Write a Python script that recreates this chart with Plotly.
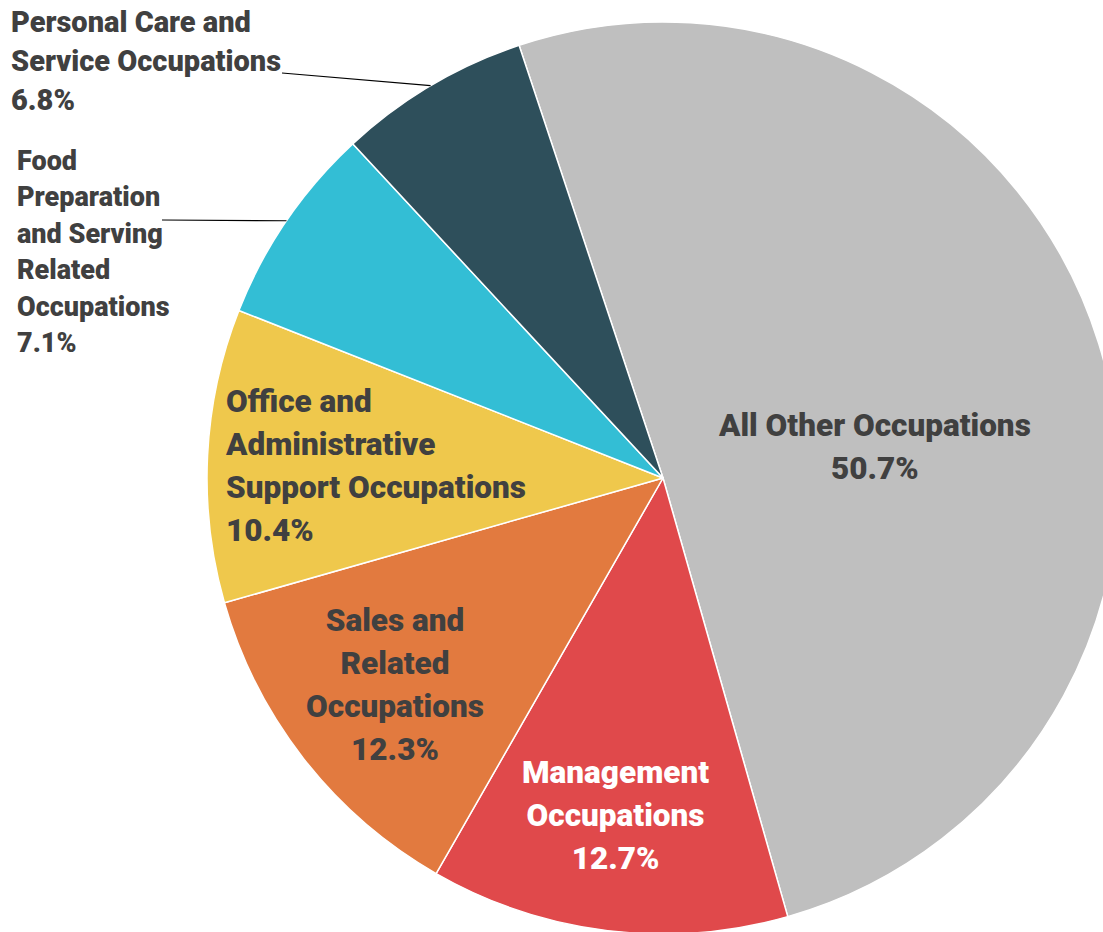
import math
import plotly.graph_objects as go

# ---- data ----
categories = [
    "All Other Occupations",
    "Management Occupations",
    "Sales and Related Occupations",
    "Office and Administrative Support Occupations",
    "Food Preparation and Serving Related Occupations",
    "Personal Care and Service Occupations",
]
shares = [50.7, 12.7, 12.3, 10.4, 7.1, 6.8]
wrapped_labels = [
    "All Other Occupations",
    "Management<br>Occupations",
    "Sales and<br>Related<br>Occupations",
    "Office and<br>Administrative<br>Support Occupations",
    "Food<br>Preparation<br>and Serving<br>Related<br>Occupations",
    "Personal Care and<br>Service Occupations",
]
colors = ["#BFBFBF", "#E0494B", "#E27A3F", "#EFC84C", "#33BED5", "#2E4F5B"]
text_colors = ["#404040", "#FFFFFF", "#404040", "#404040", "#404040", "#404040"]

# ---- layout geometry (pixels in the viewport) ----
BODY = 0          # page margin removed by post_script below
W, H = 1120, 934  # figure size (pie slightly cropped by the window, as in the reference)
CX, CY, R = 663, 478, 456
ROT = -18.4       # start angle of the first slice (deg, clockwise from 12 o'clock)

def px(x):
    return (x - BODY) / W

def py(y):
    return 1 - (y - BODY) / H

FONT = "Roboto, Liberation Sans, Arial, sans-serif"

fig = go.Figure(go.Pie(
    labels=categories,
    values=shares,
    sort=False,
    direction="clockwise",
    rotation=ROT,
    marker=dict(colors=colors, line=dict(color="white", width=1.5)),
    textinfo="none",
    hoverinfo="label+percent",
    showlegend=False,
    domain=dict(x=[px(CX - R), px(CX + R)], y=[py(CY + R), py(CY - R)]),
))

# label placement: (x px, y px, xanchor, align, line-spacing base size, glyph size)
placements = [
    (874, 447, "center", "center", 33, 31.5),
    (615, 815, "center", "center", 33, 31.5),
    (395, 685, "center", "center", 33, 31.5),
    (223, 466, "left", "left", 33, 31.5),
    (15, 252, "left", "left", 28, 27),
    (9, 61, "left", "left", 30, 29),
]

annotations = []
for lab, val, col, (x, y, xa, al, base, gs) in zip(wrapped_labels, shares, text_colors, placements):
    annotations.append(dict(
        x=px(x), y=py(y), xref="paper", yref="paper",
        xanchor=xa, yanchor="middle", align=al, showarrow=False,
        text=f"<span style='font-size:{gs}px'>{lab}<br>{val:.1f}%</span>",
        font=dict(family=FONT, size=base, color=col, weight=900),
    ))

# leader lines for the two outside labels, ending at slice mid-angles on the rim
cum = 0.0
mids = []
for v in shares:
    mids.append(ROT + (cum + v / 2) * 3.6)
    cum += v
leader_starts = {4: (162, 220), 5: (282, 73)}
shapes = []
for i, (sx, sy) in leader_starts.items():
    a = math.radians(mids[i])
    ex, ey = CX + R * math.sin(a), CY - R * math.cos(a)
    shapes.append(dict(type="line", xref="paper", yref="paper",
                       x0=px(sx), y0=py(sy), x1=px(ex), y1=py(ey),
                       line=dict(color="black", width=1.2)))

fig.update_layout(
    width=W, height=H,
    margin=dict(l=0, r=0, t=0, b=0),
    paper_bgcolor="white",
    plot_bgcolor="white",
    annotations=annotations,
    shapes=shapes,
)

fig.write_html(
    "out.html",
    config={"displayModeBar": False},
    post_script="document.body.style.margin='0';document.body.style.overflow='hidden';",
)
